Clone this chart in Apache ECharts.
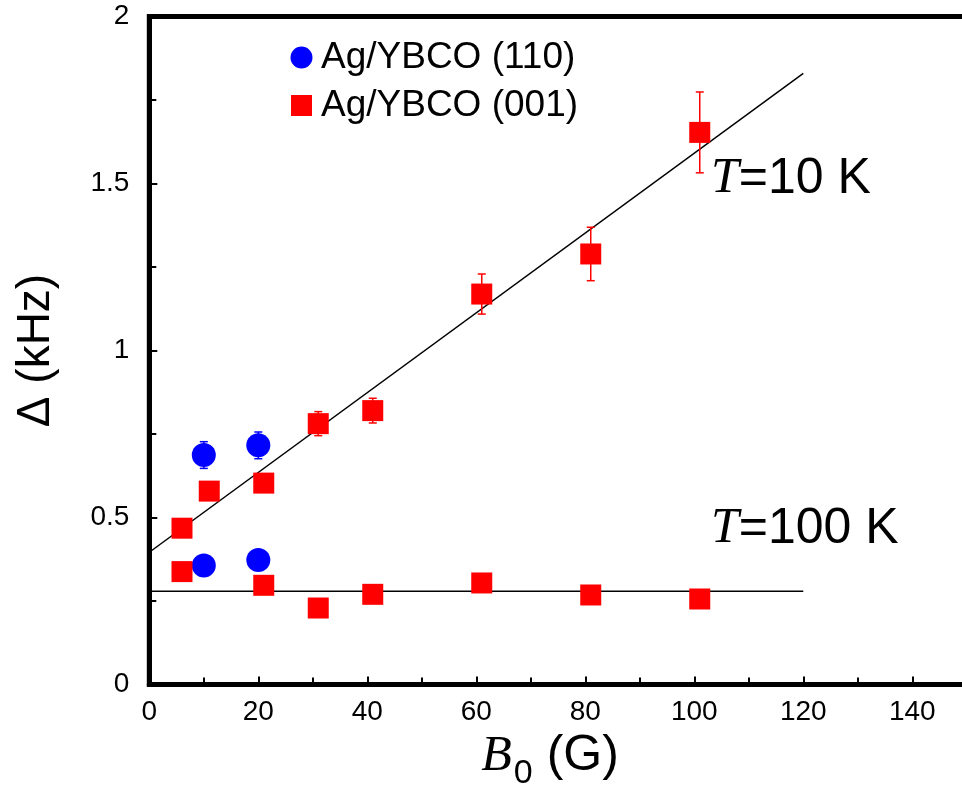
<!DOCTYPE html>
<html>
<head>
<meta charset="utf-8">
<script src="https://cdn.jsdelivr.net/npm/echarts@6/dist/echarts.min.js"></script>
<style>
  html, body { margin: 0; padding: 0; background: #fff; }
  #chart { width: 962px; height: 789px; }
</style>
</head>
<body>
<div id="chart"></div>
<script>
// Field B0 (G) and linewidth Δ (kHz) for the two film orientations
const seriesNames = ['Ag/YBCO (110)', 'Ag/YBCO (001)'];

const b110_x = [10, 20];
const b110_T10 = [0.687, 0.716];
const b110_T10_err = [0.04, 0.04];
const b110_T100 = [0.356, 0.373];

const b001_x = [6, 11, 21, 31, 41, 61, 81, 101];
const b001_T10 = [0.468, 0.579, 0.603, 0.781, 0.820, 1.169, 1.289, 1.653];
const b001_T10_err = [0, 0, 0, 0.036, 0.037, 0.06, 0.08, 0.121];
const b001_T100 = [0.338, 0.297, 0.229, 0.270, 0.304, 0.268, 0.256];
const b001_T100_x = [6, 21, 31, 41, 61, 81, 101];

// straight-line fits, endpoints in data units
const fit_T10 = [[0, 0.396], [120, 1.830]];
const fit_T100 = [[0, 0.279], [120, 0.279]];

const xTicks = { min: 0, max: 150, interval: 20 };
const yTicks = { min: 0, max: 2, interval: 0.5 };

const BLUE = '#0000ff';
const RED = '#ff0000';
const SANS = 'Liberation Sans';
const SERIF = 'Liberation Serif';

function pairs(xs, ys) { return xs.map((x, i) => [x, ys[i]]); }
function errTriples(xs, ys, es) {
  const out = [];
  xs.forEach((x, i) => { if (es[i] > 0) out.push([x, ys[i], es[i]]); });
  return out;
}

function errorBarSeries(data, color) {
  return {
    type: 'custom',
    silent: true,
    z: 2,
    data: data,
    renderItem: function (params, api) {
      const x = api.value(0), y = api.value(1), e = api.value(2);
      const hi = api.coord([x, y + e]);
      const lo = api.coord([x, y - e]);
      const cap = 4;
      const st = { stroke: color, lineWidth: 1.5 };
      return {
        type: 'group',
        children: [
          { type: 'line', shape: { x1: hi[0], y1: hi[1], x2: lo[0], y2: lo[1] }, style: st },
          { type: 'line', shape: { x1: hi[0] - cap, y1: hi[1], x2: hi[0] + cap, y2: hi[1] }, style: st },
          { type: 'line', shape: { x1: lo[0] - cap, y1: lo[1], x2: lo[0] + cap, y2: lo[1] }, style: st }
        ]
      };
    }
  };
}

function fitSeries(data) {
  return {
    type: 'line',
    data: data,
    showSymbol: false,
    silent: true,
    z: 1,
    lineStyle: { color: '#000', width: 1.5 }
  };
}

const chart = echarts.init(document.getElementById('chart'), null, { renderer: 'canvas' });

chart.setOption({
  animation: false,
  backgroundColor: '#fff',
  grid: {
    left: 149.3, right: -4.8, top: 16.5, bottom: 104.5,
    containLabel: false,
    outerBoundsMode: 'none',
    show: true, borderColor: '#000', borderWidth: 5, backgroundColor: 'transparent'
  },
  legend: {
    data: [
      { name: seriesNames[0], icon: 'path://M0,0M23,23M11.5,0.5A11,11,0,1,1,11.49,0.5Z' },
      { name: seriesNames[1], icon: 'path://M0,0M23,23M1,1h21v21h-21z' }
    ],
    orient: 'vertical',
    left: 285,
    top: 34,
    itemWidth: 23,
    itemHeight: 23,
    itemGap: 11,
    textStyle: { fontFamily: SANS, fontSize: 37, color: '#000', padding: [0, 0, 0, 3] }
  },
  xAxis: {
    type: 'value',
    min: xTicks.min, max: xTicks.max, interval: xTicks.interval,
    name: '{i|B}{s|0}{n| (G)}',
    nameLocation: 'middle',
    nameGap: 35,
    nameTextStyle: {
      rich: {
        i: { fontFamily: SERIF, fontStyle: 'italic', fontSize: 50, color: '#000' },
        s: { fontFamily: SANS, fontSize: 34, color: '#000', padding: [34, 0, 0, 2] },
        n: { fontFamily: SANS, fontSize: 50, color: '#000', padding: [0, 16, 0, 0] }
      }
    },
    axisLine: { lineStyle: { color: '#000', width: 5 } },
    axisTick: { inside: true, length: 8, lineStyle: { color: '#000', width: 2 } },
    minorTick: { show: true, splitNumber: 2, length: 7, lineStyle: { color: '#000', width: 2 } },
    axisLabel: {
      fontFamily: SANS, fontSize: 28, color: '#000', margin: 14,
      showMaxLabel: false
    },
    splitLine: { show: false }
  },
  yAxis: {
    type: 'value',
    min: yTicks.min, max: yTicks.max, interval: yTicks.interval,
    name: 'Δ (kHz)',
    nameLocation: 'middle',
    nameGap: 90,
    nameTextStyle: { fontFamily: SANS, fontSize: 46, color: '#000' },
    axisLine: { show: true, lineStyle: { color: '#000', width: 5 } },
    axisTick: { show: true, inside: true, length: 8, lineStyle: { color: '#000', width: 2 } },
    minorTick: { show: true, splitNumber: 2, length: 7, lineStyle: { color: '#000', width: 2 } },
    axisLabel: { fontFamily: SANS, fontSize: 28, color: '#000', margin: 20 },
    splitLine: { show: false }
  },
  graphic: [
    {
      type: 'text',
      left: 711, top: 154,
      style: {
        text: '{i|T}{n|=10 K}',
        rich: {
          i: { fontFamily: SERIF, fontStyle: 'italic', fontSize: 50, fill: '#000' },
          n: { fontFamily: SANS, fontSize: 50, fill: '#000' }
        }
      }
    },
    {
      type: 'text',
      left: 711, top: 504,
      style: {
        text: '{i|T}{n|=100 K}',
        rich: {
          i: { fontFamily: SERIF, fontStyle: 'italic', fontSize: 50, fill: '#000' },
          n: { fontFamily: SANS, fontSize: 50, fill: '#000' }
        }
      }
    }
  ],
  series: [
    fitSeries(fit_T10),
    fitSeries(fit_T100),
    errorBarSeries(errTriples(b110_x, b110_T10, b110_T10_err), BLUE),
    errorBarSeries(errTriples(b001_x, b001_T10, b001_T10_err), RED),
    {
      name: seriesNames[0],
      type: 'scatter',
      symbol: 'circle',
      symbolSize: 24,
      z: 3,
      itemStyle: { color: BLUE, opacity: 1 },
      data: pairs(b110_x, b110_T10).concat(pairs(b110_x, b110_T100))
    },
    {
      name: seriesNames[1],
      type: 'scatter',
      symbol: 'rect',
      symbolSize: 21,
      z: 3,
      itemStyle: { color: RED, opacity: 1 },
      data: pairs(b001_x, b001_T10).concat(pairs(b001_T100_x, b001_T100))
    }
  ]
});
</script>
</body>
</html>
